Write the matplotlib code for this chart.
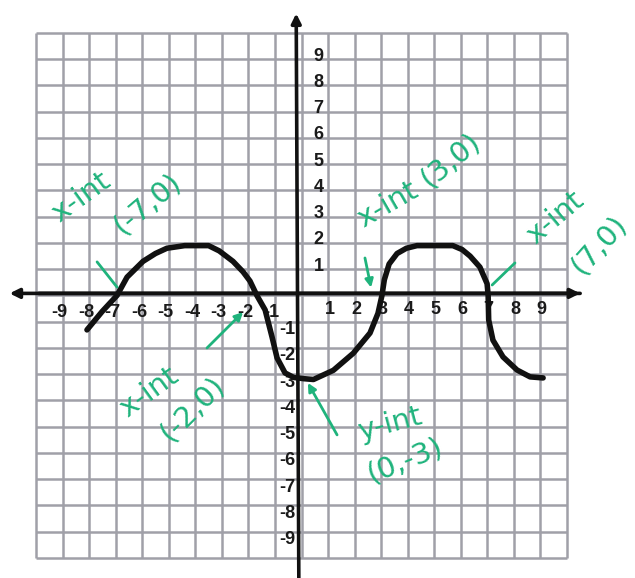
import matplotlib
matplotlib.use("Agg")
import matplotlib.pyplot as plt

# Hand-sketched function on a -10..10 grid
curve_x = [-8.08, -7.5, -6.95, -6.57, -5.97, -5.5, -5.07, -4.4, -3.5, -3.1, -2.58, -2.2,
           -1.94, -1.68, -1.37, -1.11, -0.92, -0.62, -0.3, 0.1, 0.45, 1.2, 1.95, 2.58,
           2.88, 3.03, 3.12, 3.3, 3.6, 3.95, 4.35, 5.7, 6.05, 6.35, 6.72, 6.99, 7.03,
           7.05, 7.21, 7.59, 8.12, 8.61, 9.1]
curve_y = [-1.31, -0.6, 0.0, 0.7, 1.3, 1.6, 1.8, 1.9, 1.9, 1.7, 1.3, 0.9,
           0.55, 0.0, -0.55, -1.58, -2.38, -2.95, -3.12, -3.17, -3.2, -2.85, -2.2, -1.43,
           -0.68, 0.0, 0.6, 1.2, 1.6, 1.8, 1.9, 1.9, 1.75, 1.5, 1.08, 0.45, 0.0,
           -0.93, -1.7, -2.34, -2.84, -3.1, -3.14]

tick_vals = [-9, -8, -7, -6, -5, -4, -3, -2, -1, 1, 2, 3, 4, 5, 6, 7, 8, 9]

# Annotations: (text, x, y, rotation)
notes = [
    ("x-int", -8.3, 3.75, 36), ("(-7,0)", -5.8, 3.5, 40),
    ("x-int", 3.25, 3.45, 30), ("(3,0)", 5.6, 5.15, 40),
    ("x-int", 9.55, 2.95, 40), ("(7,0)", 11.2, 1.95, 48),
    ("x-int", -5.75, -3.7, 36), ("(-2,0)", -4.1, -4.3, 45),
    ("y-int", 3.35, -4.9, 15), ("(0,-3)", 3.9, -6.3, 22),
]
# Pointer strokes: (x0, y0, x1, y1, has_head)
pointers = [
    (-7.7, 1.28, -6.95, 0.32, False),
    (2.39, 1.43, 2.62, 0.3, True),
    (7.18, 0.4, 8.04, 1.24, False),
    (-3.56, -2.0, -2.2, -0.63, True),
    (1.34, -5.31, 0.24, -3.33, True),
]

GREEN = "#1fb37c"
GRID = "#a0a0a8"

fig = plt.figure(figsize=(6.35, 5.78), dpi=100)
ax = fig.add_axes([0, 0, 1, 1])
ax.set_xlim(-11.356, 12.561)
ax.set_ylim(-10.762, 11.257)
ax.axis("off")

# graph-paper grid
for v in range(-10, 11):
    ax.plot([v, v], [-10, 10], color=GRID, lw=1.8, zorder=1, solid_capstyle="butt")
    ax.plot([-10, 10], [v, v], color=GRID, lw=1.8, zorder=1, solid_capstyle="butt")

# axes with arrowheads
axis_arrow = dict(arrowstyle="-|>", lw=2.6, color="#111111", mutation_scale=14)
ax.annotate("", xy=(-11.1, 0.08), xytext=(10.6, 0.08), arrowprops=axis_arrow, zorder=3)
ax.annotate("", xy=(10.6, 0.08), xytext=(-10.0, 0.08), arrowprops=axis_arrow, zorder=3)
ax.annotate("", xy=(-0.2, 10.85), xytext=(-0.1, -11.0), arrowprops=axis_arrow, zorder=3)

# tick labels
lab = dict(fontsize=13, fontweight="bold", color="#1a1a1a", family="Liberation Sans",
           zorder=2)
for v in tick_vals:
    if v < 0:
        ax.text(v - 0.12, -0.65, str(v), ha="center", va="center", **lab)
        ax.text(-0.22, v - 0.3, str(v), ha="right", va="center", **lab)
    else:
        ax.text(v + 0.05, -0.55, str(v), ha="center", va="center", **lab)
        ax.text(0.45, v + 0.12, str(v), ha="left", va="center", **lab)

# the sketched curve
ax.plot(curve_x, curve_y, color="#111111", lw=4.0, solid_joinstyle="round",
        solid_capstyle="round", zorder=4)

# handwritten notes
for txt, x, y, rot in notes:
    ax.text(x, y, txt, color=GREEN, fontsize=21, rotation=rot, ha="center",
            va="center", family="DejaVu Sans", rotation_mode="anchor", zorder=5)
for x0, y0, x1, y1, head in pointers:
    style = "-|>" if head else "-"
    ax.annotate("", xy=(x1, y1), xytext=(x0, y0),
                arrowprops=dict(arrowstyle=style, lw=2.0, color=GREEN,
                                mutation_scale=12, shrinkA=0, shrinkB=0),
                zorder=5)

fig.savefig("out.png", dpi=100, facecolor="white")
